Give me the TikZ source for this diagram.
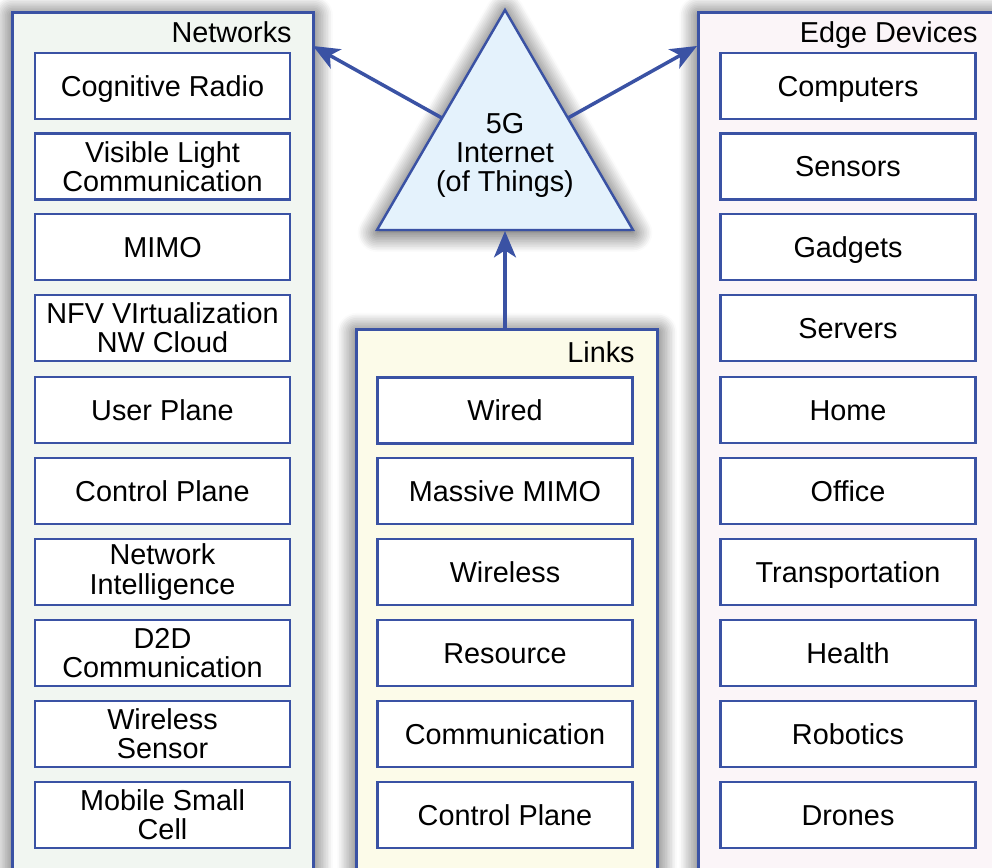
\documentclass[tikz,border=0pt]{standalone}
\usepackage{fontspec}
\setmainfont{Liberation Sans}
\usetikzlibrary{arrows.meta,shadows.blur}
\definecolor{bluel}{HTML}{3A52A4}
\definecolor{netfill}{HTML}{F1F6F1}
\definecolor{linkfill}{HTML}{FCFBE9}
\definecolor{edgefill}{HTML}{FBF5F8}
\definecolor{trifill}{HTML}{E4F2FC}
\tikzset{
  shadowed/.style={blur shadow={shadow xshift=0pt, shadow yshift=-1.5pt, shadow blur radius=11pt, shadow opacity=80, shadow blur steps=12}},
  panel/.style={draw=bluel, line width=1.8pt, anchor=north west, inner sep=0pt, shadowed},
  itembox/.style={draw=bluel, line width=1.4pt, fill=white, minimum width=5.1cm, minimum height=1.32cm,
    inner sep=0pt, align=center, font=\fontsize{16.4}{16.6}\selectfont},
  oneline/.style={text height=11.7pt, text depth=0pt},
  paneltitle/.style={anchor=east, inner sep=0pt, text height=11.7pt, text depth=0pt, font=\fontsize{16.4}{16.6}\selectfont},
  conn/.style={draw=bluel, line width=2pt, -{Stealth[length=15pt,width=12.5pt,inset=4pt]}}
}
\begin{document}
\begin{tikzpicture}[x=0.02cm,y=-0.02cm]
\useasboundingbox (0,0) rectangle (992,867);
\clip (0,0) rectangle (992,867);
% panels
\node[panel, fill=netfill, minimum width=6.02cm, minimum height=18cm] (net) at (11,11) {};
\node[panel, fill=linkfill, minimum width=6.02cm, minimum height=12cm] (links) at (355,328) {};
\node[panel, fill=edgefill, minimum width=6.5cm, minimum height=18cm] (edge) at (697,11) {};
\node[paneltitle] (netT) at (292,32) {Networks};
\node[paneltitle] (linksT) at (635,352) {Links};
\node[paneltitle] (edgeT) at (978,32) {Edge Devices};
% triangle
\coordinate (apex) at (505,10);
\coordinate (br) at (633,230);
\coordinate (bl) at (377,230);
\filldraw[draw=bluel, fill=trifill, line width=1.4pt, line join=miter, shadowed]
  (apex) -- (br) -- (bl) -- cycle;
\node[align=center, inner sep=0pt, font=\fontsize{16.4}{16.6}\selectfont] (tri) at (505,155.5) {5G\\Internet\\(of Things)};
\coordinate (tl) at (442,118);
\coordinate (tr) at (568,118);
\coordinate (tb) at (505,231);
\coordinate (netA) at (313,46);
\coordinate (edgeA) at (697,46);
% Networks items
\node[itembox, oneline] (n1) at (162.5,86) {Cognitive Radio};
\node[itembox] (n2) at (162.5,166.5) {Visible Light\\Communication};
\node[itembox, oneline] (n3) at (162.5,247) {MIMO};
\node[itembox] (n4) at (162.5,328) {NFV VIrtualization\\NW Cloud};
\node[itembox, oneline] (n5) at (162.5,410) {User Plane};
\node[itembox, oneline] (n6) at (162.5,491) {Control Plane};
\node[itembox] (n7) at (162.5,572) {Network\\Intelligence};
\node[itembox] (n8) at (162.5,653) {D2D\\Communication};
\node[itembox] (n9) at (162.5,734) {Wireless\\Sensor};
\node[itembox] (n10) at (162.5,815) {Mobile Small\\Cell};
% Links items
\node[itembox, oneline] (l1) at (505,410.5) {Wired};
\node[itembox, oneline] (l2) at (505,491) {Massive MIMO};
\node[itembox, oneline] (l3) at (505,572) {Wireless};
\node[itembox, oneline] (l4) at (505,653) {Resource};
\node[itembox, oneline] (l5) at (505,734) {Communication};
\node[itembox, oneline] (l6) at (505,815) {Control Plane};
% Edge items
\node[itembox, oneline] (e1) at (848,86) {Computers};
\node[itembox, oneline] (e2) at (848,166.5) {Sensors};
\node[itembox, oneline] (e3) at (848,247) {Gadgets};
\node[itembox, oneline] (e4) at (848,328) {Servers};
\node[itembox, oneline] (e5) at (848,410) {Home};
\node[itembox, oneline] (e6) at (848,491) {Office};
\node[itembox, oneline] (e7) at (848,572) {Transportation};
\node[itembox, oneline] (e8) at (848,653) {Health};
\node[itembox, oneline] (e9) at (848,734) {Robotics};
\node[itembox, oneline] (e10) at (848,815) {Drones};
% connectors
\draw[conn] (tl) -- (netA);
\draw[conn] (tr) -- (edgeA);
\draw[conn] (links.north west -| tb) -- (tb);
\end{tikzpicture}
\end{document}
